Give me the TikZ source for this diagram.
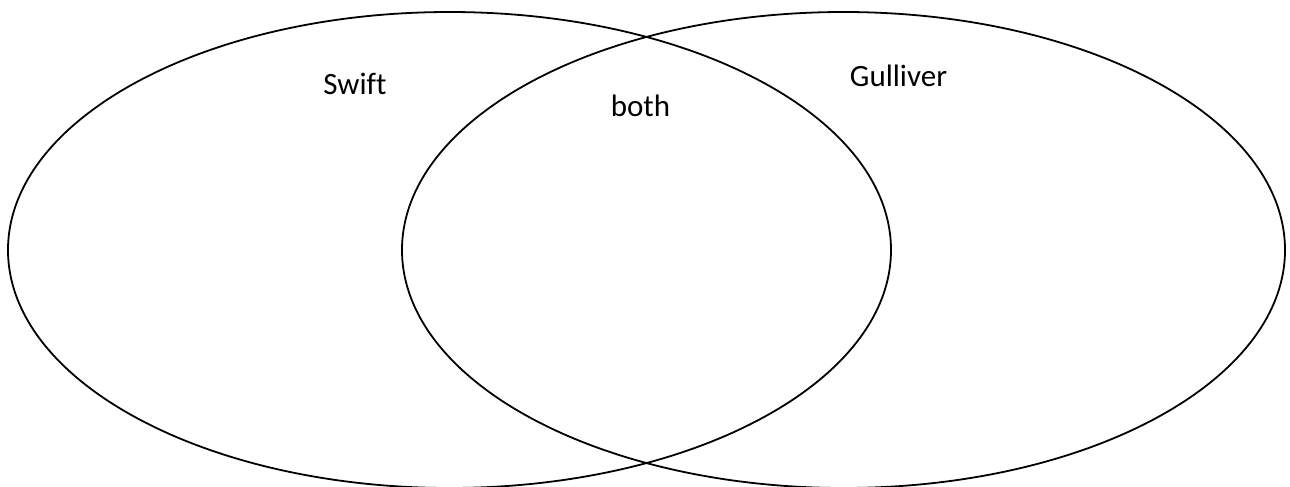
\documentclass[tikz,border=0pt]{standalone}
\usepackage{fontspec}
\setmainfont[Ligatures={NoCommon}]{Carlito}
\begin{document}
\begin{tikzpicture}[x=1pt,y=-1pt,
  setline/.style={line width=1.8pt,black},
  lbl/.style={anchor=base,inner sep=0pt,font=\fontsize{31}{37}\selectfont}]
\useasboundingbox (0,0) rectangle (1290,487);
\fill[white] (0,0) rectangle (1290,487);
\draw[setline] (449.5,250) ellipse [x radius=441.5, y radius=238];
\draw[setline] (843.5,250) ellipse [x radius=441.5, y radius=238];
\node[lbl] (swift) at (355,95) {Swift};
\node[lbl] (both) at (640.5,116) {both};
\node[lbl] (gulliver) at (898.5,86) {Gulliver};
\end{tikzpicture}
\end{document}
